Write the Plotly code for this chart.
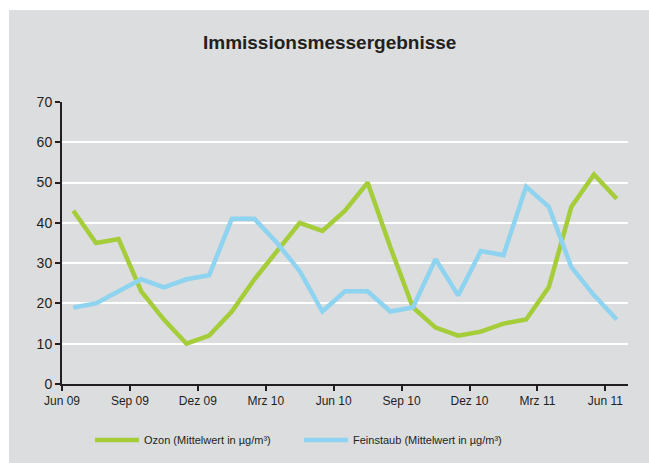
import plotly.graph_objects as go

months = ["Jun 09", "Jul 09", "Aug 09", "Sep 09", "Okt 09", "Nov 09", "Dez 09",
          "Jan 10", "Feb 10", "Mrz 10", "Apr 10", "Mai 10", "Jun 10", "Jul 10",
          "Aug 10", "Sep 10", "Okt 10", "Nov 10", "Dez 10", "Jan 11", "Feb 11",
          "Mrz 11", "Apr 11", "Mai 11", "Jun 11"]
ozon = [43, 35, 36, 23, 16, 10, 12, 18, 26, 33, 40, 38, 43, 50, 34, 19, 14, 12,
        13, 15, 16, 24, 44, 52, 46]
feinstaub = [19, 20, 23, 26, 24, 26, 27, 41, 41, 35, 28, 18, 23, 23, 18, 19, 31,
             22, 33, 32, 49, 44, 29, 22, 16]
tick_labels = ["Jun 09", "Sep 09", "Dez 09", "Mrz 10", "Jun 10", "Sep 10",
               "Dez 10", "Mrz 11", "Jun 11"]

idx = list(range(len(months)))
tick_pos = [i - 0.5 for i in range(0, len(months), 3)]

fig = go.Figure()
fig.add_trace(go.Scatter(x=idx, y=ozon, mode="lines", name="Ozon (Mittelwert in µg/m³)",
                         line=dict(color="#a5cd39", width=4.5)))
fig.add_trace(go.Scatter(x=idx, y=feinstaub, mode="lines",
                         name="Feinstaub (Mittelwert in µg/m³)",
                         line=dict(color="#8ed3ef", width=4.5)))

# grey paper, with thin white strips along the left and top edges
fig.add_shape(type="rect", xref="paper", yref="paper", layer="below",
              x0=-0.2, x1=-0.0936, y0=-0.5, y1=1.5,
              fillcolor="white", line=dict(width=0))
fig.add_shape(type="rect", xref="paper", yref="paper", layer="below",
              x0=-0.2, x1=1.2, y0=1.326, y1=1.5,
              fillcolor="white", line=dict(width=0))

fig.update_layout(
    width=649, height=463,
    margin=dict(l=62, r=21, t=102, b=79, autoexpand=False),
    paper_bgcolor="#dcdddf", plot_bgcolor="rgba(0,0,0,0)",
    font=dict(family="Arial, Liberation Sans, sans-serif", color="#231f20"),
    title=dict(text="<b>Immissionsmessergebnisse</b>", x=0.508, xanchor="center",
               y=0.909, yanchor="middle", yref="container",
               font=dict(size=19, color="#231f20")),
    legend=dict(orientation="h", xref="container", x=0.1387, xanchor="left",
                yref="container", y=0.0497, yanchor="middle",
                font=dict(size=11, color="#231f20"), bgcolor="rgba(0,0,0,0)",
                itemwidth=44, entrywidth=150),
    showlegend=True,
)
fig.update_xaxes(range=[-0.5, 24.5], tickmode="array", tickvals=tick_pos,
                 ticktext=tick_labels, showgrid=False, zeroline=False,
                 showline=True, linecolor="#231f20", linewidth=2,
                 ticks="outside", ticklen=5, tickwidth=2, tickcolor="#231f20",
                 tickfont=dict(size=12))
fig.update_yaxes(range=[0, 70], tickvals=[0, 10, 20, 30, 40, 50, 60, 70],
                 showgrid=True, gridcolor="white", gridwidth=1.5, zeroline=False,
                 showline=True, linecolor="#231f20", linewidth=2,
                 ticks="outside", ticklen=5, tickwidth=2, tickcolor="#231f20",
                 tickfont=dict(size=14))

# drop the browser's default body margin and scrollbars so the figure fills the window
fig.write_html("out.html", config={"displayModeBar": False},
               post_script="document.body.style.margin='0';"
                           "document.body.style.overflow='hidden';"
                           "document.body.style.background='#dcdddf';")
